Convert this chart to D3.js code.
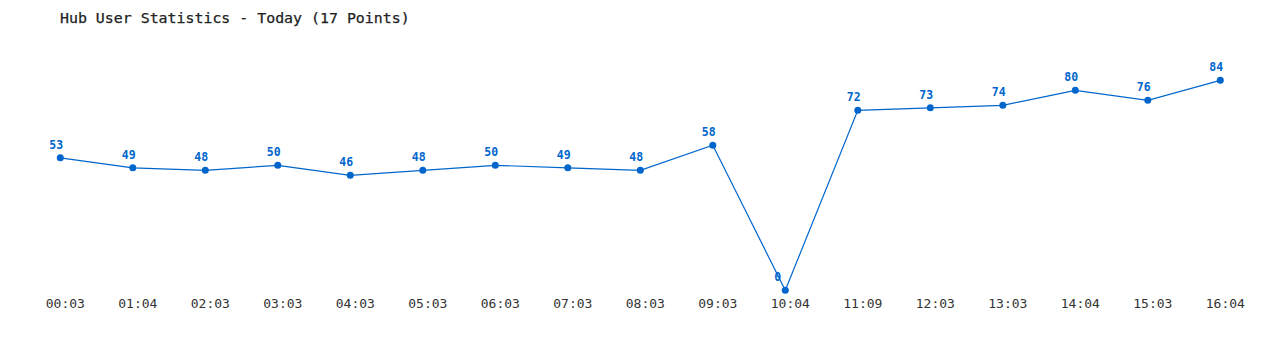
<!DOCTYPE html>
<html>
<head>
<meta charset="utf-8">
<script src="https://cdn.jsdelivr.net/npm/d3@7"></script>
<style>
body { margin: 0; background: #fff; }
svg { display: block; }
</style>
</head>
<body>
<svg id="chart"></svg>
<script>
var times = ["00:03", "01:04", "02:03", "03:03", "04:03", "05:03", "06:03", "07:03", "08:03",
             "09:03", "10:04", "11:09", "12:03", "13:03", "14:04", "15:03", "16:04"];
var users = [53, 49, 48, 50, 46, 48, 50, 49, 48, 58, 0, 72, 73, 74, 80, 76, 84];
var title = "Hub User Statistics - Today (17 Points)";

var width = 1280, height = 350;
var blue = "#0066cc";
var mono = "'DejaVu Sans Mono', 'Liberation Mono', monospace";

var svg = d3.select("#chart")
    .attr("width", width)
    .attr("height", height);

var x = d3.scalePoint()
    .domain(times)
    .range([60.3, 1220.3]);

var y = d3.scaleLinear()
    .domain([0, d3.max(users)])
    .range([290.3, 80.3]);

svg.append("text")
    .attr("x", 60)
    .attr("y", 23)
    .style("font-family", mono)
    .style("font-size", "14.9px")
    .style("fill", "#222")
    .style("stroke", "#222")
    .style("stroke-width", 0.25)
    .text(title);

// x labels, a bit right of the point like the original
var xAxis = d3.axisBottom(x).tickSize(0).tickPadding(0);
var ax = svg.append("g")
    .attr("transform", "translate(4.5,0)")
    .call(xAxis);
ax.select(".domain").remove();
ax.selectAll("text")
    .attr("y", 308)
    .attr("dy", null)
    .style("font-family", mono)
    .style("font-size", "13px")
    .style("fill", "#333");

var line = d3.line()
    .x(function(d, i) { return x(times[i]); })
    .y(function(d) { return y(d); });

svg.append("path")
    .datum(users)
    .attr("d", line)
    .style("fill", "none")
    .style("stroke", blue)
    .style("stroke-width", 1.2);

svg.selectAll(".dot")
    .data(users)
    .enter().append("circle")
    .attr("class", "dot")
    .attr("cx", function(d, i) { return x(times[i]); })
    .attr("cy", function(d) { return y(d); })
    .attr("r", 3.5)
    .style("fill", blue);

svg.selectAll(".val")
    .data(users)
    .enter().append("text")
    .attr("class", "val")
    .attr("x", function(d, i) { return x(times[i]) - 11; })
    .attr("y", function(d) { return y(d) - 9; })
    .style("font-family", mono)
    .style("font-size", "11.5px")
    .style("font-weight", "bold")
    .style("fill", blue)
    .text(function(d) { return d; });
</script>
</body>
</html>
